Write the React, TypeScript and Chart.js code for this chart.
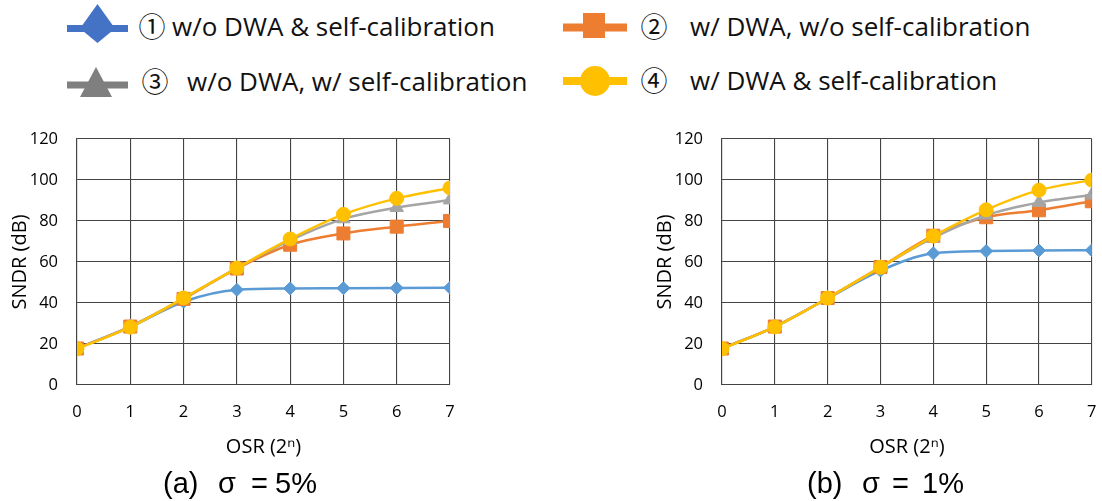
import React, { useEffect, useRef } from "react";
import { Chart, registerables } from "chart.js";

Chart.register(...registerables);

// OSR exponent n (OSR = 2^n)
const OSR_EXP = [0, 1, 2, 3, 4, 5, 6, 7];

// Y axis range (SNDR in dB)
const Y_MIN = 0;
const Y_MAX = 120;
const Y_STEP = 20;

// Series labels
const SERIES_LABELS = [
  "w/o DWA & self-calibration",
  "w/ DWA, w/o self-calibration",
  "w/o DWA, w/ self-calibration",
  "w/ DWA & self-calibration",
];
const SERIES_NUMBERS = ["①", "②", "③", "④"];

// (a) sigma = 5 %
const A_NO_DWA_NO_CAL = [17.8, 28.3, 40.6, 46.4, 47.1, 47.2, 47.3, 47.4];
const A_DWA_NO_CAL = [17.8, 28.5, 42.0, 56.8, 68.4, 73.9, 77.2, 80.0];
const A_NO_DWA_CAL = [17.8, 28.5, 42.2, 57.0, 70.5, 81.0, 86.5, 90.2];
const A_DWA_CAL = [17.7, 28.2, 42.4, 57.0, 71.2, 83.2, 91.0, 96.1];

// (b) sigma = 1 %
const B_NO_DWA_NO_CAL = [17.8, 28.4, 42.2, 55.8, 64.2, 65.3, 65.6, 65.7];
const B_DWA_NO_CAL = [17.8, 28.5, 42.4, 57.5, 72.8, 81.8, 85.2, 89.6];
const B_NO_DWA_CAL = [17.8, 28.4, 42.3, 57.3, 71.8, 82.8, 89.0, 92.6];
const B_DWA_CAL = [17.7, 28.3, 42.4, 57.4, 72.6, 85.4, 95.0, 99.9];

const LINE_COLORS = ["#5B9BD5", "#ED7D31", "#A5A5A5", "#FFC000"];
const LEGEND_COLORS = ["#4472C4", "#ED7D31", "#7F7F7F", "#FFC000"];
const POINT_STYLES = ["rectRot", "rect", "triangle", "circle"];
const POINT_RADII = [6.5, 9.2, 7.8, 7];
const GRID = "#444444";
const FONT = "'Open Sans', 'DejaVu Sans', sans-serif";

type ChartProps = {
  series: number[][];
  left: number;
  width: number;
  padRight: number;
};

function SndrChart({ series, left, width, padRight }: ChartProps) {
  const ref = useRef<HTMLCanvasElement | null>(null);

  useEffect(() => {
    if (!ref.current) return;
    const datasets = series.map((ys, i) => ({
      label: SERIES_LABELS[i],
      data: OSR_EXP.map((x, k) => ({ x, y: ys[k] })),
      borderColor: LINE_COLORS[i],
      backgroundColor: LINE_COLORS[i],
      pointBackgroundColor: LINE_COLORS[i],
      pointBorderColor: LINE_COLORS[i],
      pointBorderWidth: 1,
      borderWidth: 2.5,
      pointStyle: POINT_STYLES[i],
      pointRadius: POINT_RADII[i],
      cubicInterpolationMode: "monotone" as const,
      order: 4 - i,
    }));
    const chart = new Chart(ref.current, {
      type: "line",
      data: { datasets },
      options: {
        responsive: false,
        maintainAspectRatio: false,
        animation: false,
        layout: { padding: { left: 0, right: padRight, top: 27.7, bottom: 0 } },
        plugins: { legend: { display: false }, tooltip: { enabled: false } },
        scales: {
          x: {
            type: "linear",
            min: 0,
            max: 7,
            ticks: {
              stepSize: 1,
              padding: 17,
              color: "#000",
              font: { family: FONT, size: 16.5 },
            },
            grid: { color: GRID, lineWidth: 1.1, drawTicks: false },
            border: { color: GRID, width: 1.1 },
            title: {
              display: true,
              text: "OSR (2ⁿ)",
              color: "#000",
              font: { family: FONT, size: 20 },
              padding: { top: 0, bottom: 11 },
            },
            afterFit: (s: any) => {
              s.height = 85;
              s.paddingLeft = 0;
              s.paddingRight = 0;
            },
          },
          y: {
            type: "linear",
            min: Y_MIN,
            max: Y_MAX,
            ticks: {
              stepSize: Y_STEP,
              padding: 19,
              color: "#000",
              font: { family: FONT, size: 16.5 },
            },
            grid: { color: GRID, lineWidth: 1.1, drawTicks: false },
            border: { color: GRID, width: 1.1 },
            title: {
              display: true,
              text: "SNDR (dB)",
              color: "#000",
              font: { family: FONT, size: 20 },
              padding: { top: 8, bottom: 0 },
            },
            afterFit: (s: any) => {
              s.width = 77;
            },
          },
        },
      },
    });
    return () => chart.destroy();
  }, [series, padRight]);

  return (
    <canvas
      ref={ref}
      width={width}
      height={360}
      style={{ position: "absolute", left, top: 110, width, height: 360 }}
    />
  );
}

function Legend() {
  const textStyle: React.CSSProperties = {
    position: "absolute",
    fontFamily: FONT,
    fontSize: 26,
    lineHeight: "26px",
    color: "#111",
    whiteSpace: "pre",
  };
  const numStyle: React.CSSProperties = {
    position: "absolute",
    fontFamily: "'Noto Sans CJK JP', 'DejaVu Sans', sans-serif",
    fontSize: 27,
    lineHeight: "27px",
    width: 34,
    textAlign: "center",
    color: "#111",
  };
  const entries = [
    { numX: 152, textX: 172, cy: 27 },
    { numX: 654, textX: 690, cy: 27 },
    { numX: 155, textX: 187, cy: 82 },
    { numX: 654, textX: 690, cy: 81 },
  ];
  return (
    <>
      <svg
        width={1102}
        height={110}
        style={{ position: "absolute", left: 0, top: 0 }}
      >
        <line x1={67} y1={28.5} x2={128} y2={28.5} stroke={LEGEND_COLORS[0]} strokeWidth={7} />
        <polygon points="97.5,4 80,28.5 97.5,43 115,28.5" fill={LEGEND_COLORS[0]} />
        <line x1={563} y1={27.5} x2={627} y2={27.5} stroke={LEGEND_COLORS[1]} strokeWidth={8} />
        <rect x={583} y={13} width={22} height={25} fill={LEGEND_COLORS[1]} />
        <line x1={67} y1={85} x2={128} y2={85} stroke={LEGEND_COLORS[2]} strokeWidth={7} />
        <polygon points="96,67 80,97 112,97" fill={LEGEND_COLORS[2]} />
        <line x1={563} y1={81} x2={627} y2={81} stroke={LEGEND_COLORS[3]} strokeWidth={8} />
        <circle cx={595} cy={81} r={15} fill={LEGEND_COLORS[3]} />
      </svg>
      {entries.map((e, i) => (
        <React.Fragment key={i}>
          <span style={{ ...numStyle, left: e.numX - 17, top: e.cy - 15 }}>
            {SERIES_NUMBERS[i]}
          </span>
          <span style={{ ...textStyle, left: e.textX, top: e.cy - 14 }}>
            {SERIES_LABELS[i]}
          </span>
        </React.Fragment>
      ))}
    </>
  );
}

function Caption({ parts }: { parts: { text: string; x: number }[] }) {
  return (
    <>
      {parts.map((p, i) => (
        <span
          key={i}
          style={{
            position: "absolute",
            left: p.x,
            top: 468.5,
            fontFamily: "'Liberation Sans', Arial, sans-serif",
            fontSize: 29,
            lineHeight: "29px",
            color: "#000",
            whiteSpace: "pre",
          }}
        >
          {p.text}
        </span>
      ))}
    </>
  );
}

export default function App() {
  const seriesA = [A_NO_DWA_NO_CAL, A_DWA_NO_CAL, A_NO_DWA_CAL, A_DWA_CAL];
  const seriesB = [B_NO_DWA_NO_CAL, B_DWA_NO_CAL, B_NO_DWA_CAL, B_DWA_CAL];
  return (
    <div
      style={{
        position: "fixed",
        left: 0,
        top: 0,
        width: 1102,
        height: 501,
        overflow: "hidden",
        background: "#fff",
      }}
    >
      <Legend />
      <SndrChart series={seriesA} left={0} width={480} padRight={30} />
      <SndrChart series={seriesB} left={645} width={457} padRight={7} />
      <Caption
        parts={[
          { text: "(a)", x: 163 },
          { text: "σ", x: 218 },
          { text: "=", x: 251 },
          { text: "5%", x: 275 },
        ]}
      />
      <Caption
        parts={[
          { text: "(b)", x: 807 },
          { text: "σ", x: 862 },
          { text: "=", x: 892 },
          { text: "1%", x: 922 },
        ]}
      />
    </div>
  );
}
